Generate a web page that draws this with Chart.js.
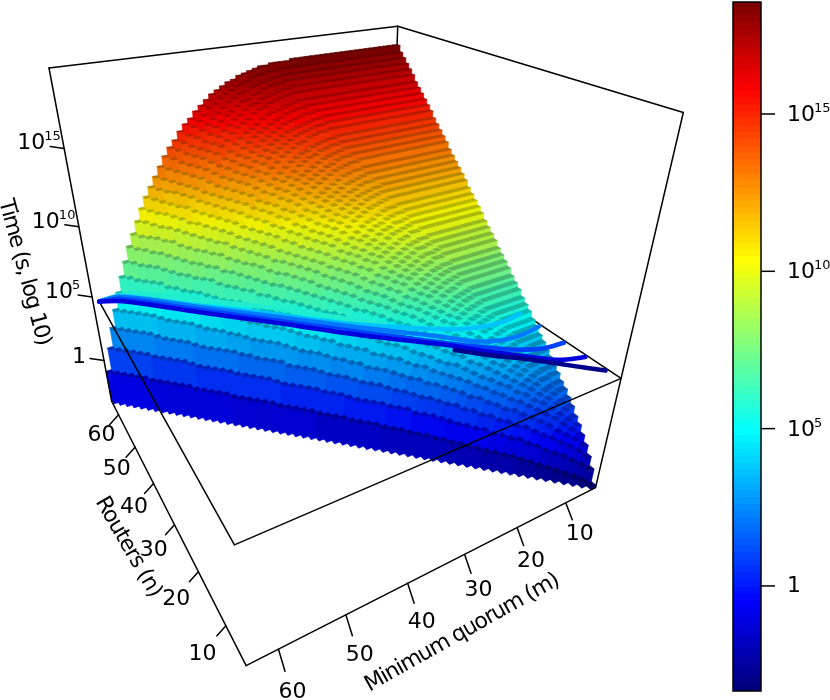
<!DOCTYPE html>
<html>
<head>
<meta charset="utf-8">
<title>Quorum search time</title>
<script src="https://cdn.jsdelivr.net/npm/chart.js@4/dist/chart.umd.min.js"></script>
<style>
  body { margin: 0; background: #fff; }
  #wrap { position: relative; width: 830px; height: 700px; overflow: hidden; }
  canvas { position: absolute; top: 0; }
</style>
</head>
<body>
<div id="wrap">
  <canvas id="surface" width="830" height="700" style="left:0"></canvas>
  <canvas id="colorbar" width="130" height="700" style="left:700px"></canvas>
</div>
<script>
// Log10(time) in tenths of a decade, one row per router
// count n = 4..64. Each row starts at m = n and walks down towards m = 4; once
// a row has reached its plateau the last value holds for the remaining m.
const timeTenths = [
  [-33],
  [-31,-23],
  [-29,-21,-16],
  [-28,-19,-13,-10],
  [-27,-17,-11,-7,-5],
  [-26,-16,-9,-5,-2,0],
  [-25,-15,-7,-3,1,3,4],
  [-24,-13,-6,0,4,6,8,9],
  [-23,-12,-4,2,6,9,11,12,13],
  [-22,-10,-2,4,8,12,14,16,17,17],
  [-22,-10,-2,5,10,13,16,18,19,20,20],
  [-21,-9,0,7,12,16,19,21,23,23,24,24],
  [-21,-9,0,7,13,17,21,23,25,26,27,27,27],
  [-20,-7,2,9,15,20,23,26,28,30,30,31,31,31],
  [-20,-7,2,10,16,21,25,28,30,32,33,34,34,34,34],
  [-19,-6,4,12,18,23,27,31,33,35,36,37,37,38,38,38],
  [-19,-6,4,12,19,24,29,32,35,37,39,40,41,41,41,41,41],
  [-18,-5,6,14,21,26,31,35,38,40,42,43,44,45,45,45,45,45],
  [-18,-4,6,15,22,28,32,37,40,42,44,46,47,48,48,48,48,48,48],
  [-17,-3,7,16,23,30,35,39,42,45,48,49,50,51,52,52],
  [-17,-3,8,17,24,30,36,40,44,47,50,52,53,54,55,55],
  [-17,-3,8,17,25,31,37,41,46,49,52,54,55,57,58,58],
  [-16,-1,9,19,27,33,39,44,48,52,55,57,59,60,61,62],
  [-16,-1,10,19,27,34,40,45,49,53,56,59,61,63,64,65],
  [-16,-1,10,20,28,35,41,46,51,55,58,61,63,65,66,67,68],
  [-15,0,11,21,30,37,43,48,53,57,60,63,66,68,69,71,72],
  [-15,0,12,22,30,38,44,50,55,59,62,66,68,70,72,73,74,75],
  [-15,0,12,22,31,38,45,51,56,60,64,67,70,72,74,76,77,78],
  [-15,0,12,22,31,39,46,52,57,61,65,69,72,74,76,78,79,80,80,81],
  [-14,1,13,24,33,41,48,54,59,63,68,72,75,77,79,81,82,84,84,85],
  [-14,2,14,24,33,41,48,55,60,65,69,73,76,79,81,83,85,86,86,87,88],
  [-14,2,14,25,34,42,49,56,61,66,71,75,78,81,83,85,87,89,89,90,91],
  [-14,2,14,25,34,43,50,56,62,67,72,76,80,83,85,87,89,91,92,93,93,94],
  [-13,3,15,26,36,45,52,58,64,69,74,79,83,86,88,90,92,94,95,97,97,98],
  [-13,3,16,27,36,45,53,59,65,71,76,80,84,87,90,92,95,97,98,99,100,101],
  [-13,3,16,27,37,46,53,60,66,72,77,82,86,89,92,94,97,99,100,102,102,103,104],
  [-13,3,16,27,37,46,54,61,67,73,78,83,87,90,94,96,99,101,102,104,105,106,106,107],
  [-13,3,16,28,38,47,55,62,68,74,79,84,88,92,95,98,101,103,104,106,108,109,109,110],
  [-12,4,18,29,39,48,56,63,70,76,81,86,91,94,98,101,104,106,108,110,111,112,113,114],
  [-12,5,18,30,40,49,57,64,71,77,82,87,92,96,100,103,106,108,110,112,114,115,116,117],
  [-12,5,18,30,40,49,57,65,72,78,83,88,93,97,101,104,107,110,112,114,116,117,118,119,119,120],
  [-12,5,18,30,40,50,58,66,73,79,84,89,94,98,102,106,109,112,114,116,118,119,121,122,122,123],
  [-12,5,19,30,41,50,59,66,73,80,85,91,96,100,104,108,111,114,116,118,120,122,123,124,125,126],
  [-12,5,19,31,41,51,59,67,74,80,86,92,97,101,106,109,113,116,118,120,122,124,126,127,128,128,129],
  [-11,6,20,32,42,52,61,68,76,82,88,94,99,104,108,112,115,118,121,123,125,127,129,130,131,132,132,133],
  [-11,6,20,32,43,53,61,69,77,83,89,95,100,105,109,114,117,120,123,125,127,129,131,132,134,135,135,136],
  [-11,6,20,33,43,53,62,70,77,84,90,96,102,107,111,115,119,122,125,127,129,131,133,135,136,137,138,139],
  [-11,6,20,33,44,53,62,71,78,85,91,97,103,108,112,117,120,124,126,129,132,134,136,137,139,140,141,141,142],
  [-11,6,20,33,44,54,63,71,79,86,92,98,104,109,113,118,122,125,128,131,134,136,138,139,141,142,143,144,144,145],
  [-10,7,21,34,45,55,65,73,81,88,94,100,106,111,116,120,124,128,131,134,137,139,141,143,144,146,147,148,148,149],
  [-10,8,22,35,46,56,65,73,81,88,95,101,107,112,117,122,126,129,133,136,139,141,143,145,147,148,149,150,151,151,152],
  [-10,8,22,35,46,56,65,74,82,89,96,102,108,113,118,123,127,131,134,137,140,143,145,147,149,150,151,152,153,154,154,155],
  [-10,8,22,35,46,56,66,74,82,90,97,103,109,114,119,124,128,132,136,139,142,145,147,149,151,153,154,155,156,157,157,158],
  [-10,8,22,35,46,57,66,75,83,91,98,104,110,115,120,125,130,134,137,141,144,147,149,151,153,155,156,158,159,160,160,161],
  [-10,8,23,36,47,57,67,76,84,92,98,105,111,116,122,127,131,135,139,143,146,149,151,153,156,158,159,160,161,162,163,164],
  [-9,9,24,37,48,59,68,77,86,93,100,107,113,118,124,129,133,138,142,145,149,152,154,156,159,161,162,164,165,166,167,168],
  [-9,9,24,37,48,59,69,78,86,94,101,107,114,119,125,130,135,139,143,147,150,153,156,158,161,163,164,166,167,168,169,170,170,171],
  [-9,9,24,37,48,59,69,78,87,94,102,108,115,120,126,131,136,140,144,148,152,155,158,160,163,165,166,168,169,171,172,173,173,174],
  [-9,9,24,37,49,59,69,79,87,95,102,109,115,121,127,132,137,141,146,150,153,156,159,162,165,167,169,170,172,173,174,175,176,176,177],
  [-9,9,24,37,49,60,70,79,87,96,103,110,116,122,128,134,139,143,147,152,155,158,162,164,167,169,171,173,174,175,177,178,178,179,179,180],
  [-9,9,24,37,49,60,70,80,88,96,104,111,117,123,129,135,140,144,149,153,156,160,163,166,169,171,173,175,176,178,179,180,181,182,182,183,183,183,183,184]
];
const firstRouters = 4;
const lastQuorum = 4;

const routerTicks = [10, 20, 30, 40, 50, 60];
const quorumTicks = [10, 20, 30, 40, 50, 60];
const timeTicks = [0, 5, 10, 15];

// contour lines that lie flat on the slice plane: routers reached for each quorum
const curveQuorum = [4, 8, 12, 16, 20, 30, 40, 50, 60, 63.6];
const curveNavy = [6, 10, 14, 17.5, 21.5];
const curveDeep = [10, 11.5, 15, 18.8, 23, 32, 42, 51.8, 61.8, 63.8];
const curveBlue = [14.5, 15, 17, 20.2, 23.7, 33.3, 43, 52.8, 62.7, 63.8];
const curveAzure = [20, 19.5, 20, 22, 26, 35, 44.5, 54, 63.5, 63.8];
const curveCyan = [24.5, 24, 24.5, 26, 28.5, 36, 45.5, 54.5, 63.7, 63.8];
const curveAquaQuorum = [25, 30, 40, 50, 58, 63.6];
const curveAqua = [33, 38, 48, 57, 63.8, 63.8];

// time range of the colour scale and of the box
const colorMin = -3.34, colorMax = 18.56;
const boxM = [3.5, 64.5], boxN = [3.5, 64.5], boxZ = [-3.5, 19.6], sliceZ = 4.7;

const jetStops = [[0,0,127],[0,0,255],[0,127,255],[0,255,255],[127,255,127],[255,255,0],[255,127,0],[255,0,0],[127,0,0]];

function jet(t, shade) {
  const p = Math.min(Math.max(t, 0), 1) * 8;
  const i = Math.min(Math.floor(p), 7), f = p - i;
  const c = jetStops[i].map((v, k) => Math.round((v + (jetStops[i + 1][k] - v) * f) * shade));
  return `rgb(${c[0]},${c[1]},${c[2]})`;
}
// 100 flat colours, as on the colour bar
function levelColor(z, shade) {
  const idx = Math.min(Math.floor((z - colorMin) / (colorMax - colorMin) * 100), 99);
  return jet(idx / 99, shade);
}

// Camera: fitted to where the box corners and ticks sit in the picture
const [m0, m1] = boxM, [n0, n1] = boxN, [z0, z1] = boxZ;
const boxCorners = [
  [m1, n0, z0, 246, 666], [m1, n1, z0, 112, 402], [m0, n0, z0, 596, 487],
  [m1, n1, z1, 49, 68], [m0, n0, z1, 684, 113], [m0, n1, z1, 397, 27]
];
const cameraMarks = [
  ...boxCorners, ...boxCorners, ...boxCorners,
  [4, 64.5, 18.4, 397, 42],
  [m1, n0, sliceZ, 237, 541], [m0, n0, sliceZ, 618, 378], [m1, n1, sliceZ, 94, 300],
  [m1, n1, 15, 63, 149], [m1, n1, 10, 78, 227], [m1, n1, 5, 92, 297], [m1, n1, 0, 104, 361],
  [m1, 60, z0, 119, 414], [m1, 50, z0, 135, 446], [m1, 40, z0, 153, 483],
  [m1, 30, z0, 174, 524], [m1, 20, z0, 198, 572], [m1, 10, z0, 226, 626],
  [60, n0, z0, 278, 649], [50, n0, z0, 345, 617], [40, n0, z0, 408, 584],
  [30, n0, z0, 464, 555], [20, n0, z0, 517, 528], [10, n0, z0, 566, 503]
];

function fitCamera(marks) {
  const size = 11;
  const a = Array.from({ length: size }, () => new Array(size + 1).fill(0));
  const add = (row, rhs) => {
    for (let i = 0; i < size; i++) {
      for (let j = 0; j < size; j++) a[i][j] += row[i] * row[j];
      a[i][size] += row[i] * rhs;
    }
  };
  marks.forEach(([m, n, z, px, py]) => {
    const X = m / 60, Y = n / 60, Z = z / 20, x = px / 800, y = py / 800;
    add([X, Y, Z, 1, 0, 0, 0, 0, -x * X, -x * Y, -x * Z], x);
    add([0, 0, 0, 0, X, Y, Z, 1, -y * X, -y * Y, -y * Z], y);
  });
  for (let c = 0; c < size; c++) {
    let best = c;
    for (let r = c + 1; r < size; r++) if (Math.abs(a[r][c]) > Math.abs(a[best][c])) best = r;
    [a[c], a[best]] = [a[best], a[c]];
    for (let r = 0; r < size; r++) {
      if (r === c) continue;
      const f = a[r][c] / a[c][c];
      for (let k = c; k <= size; k++) a[r][k] -= f * a[c][k];
    }
  }
  return a.map((row, i) => row[size] / row[i]);
}
const cam = fitCamera(cameraMarks);

function project(m, n, z) {
  const X = m / 60, Y = n / 60, Z = z / 20;
  const w = cam[8] * X + cam[9] * Y + cam[10] * Z + 1;
  return {
    x: 800 * (cam[0] * X + cam[1] * Y + cam[2] * Z + cam[3]) / w,
    y: 800 * (cam[4] * X + cam[5] * Y + cam[6] * Z + cam[7]) / w
  };
}

function lineSet(points, color, width, tension) {
  return { data: points, borderColor: color, borderWidth: width, tension: tension || 0,
    fill: false, showLine: true, pointRadius: 0, borderCapStyle: 'round' };
}
function faceSet(points, color) {
  return { data: points, borderColor: color, backgroundColor: color, borderWidth: 0.6,
    fill: 'shape', showLine: true, pointRadius: 0 };
}

// Chart.js paints the first dataset last, so the list runs from front to back
const datasets = [];

// lines in front of the bars
const curveSet = (ms, ns, color) =>
  lineSet(ns.map((n, i) => project(ms[i], n, sliceZ)), color, 4.5, 0.3);
datasets.push(curveSet(curveQuorum, curveNavy, '#00008c'));
datasets.push(curveSet(curveQuorum, curveDeep, '#0000dc'));
datasets.push(curveSet(curveQuorum, curveBlue, '#0040ff'));
datasets.push(curveSet(curveQuorum, curveAzure, '#0078ff'));
datasets.push(curveSet(curveQuorum, curveCyan, '#00c4ff'));
datasets.push(curveSet(curveAquaQuorum, curveAqua, '#20ecd0'));

const black = '#000';
const edge = (a, b) => lineSet([project(...a), project(...b)], black, 1.5);
datasets.push(edge([m1, n0, sliceZ], [63.6, 63.8, sliceZ]));
datasets.push(edge([m1, n0, sliceZ], [m0, n0, sliceZ]));
datasets.push(edge([m1, n1, z0], [m1, n0, z0]));
datasets.push(edge([m1, n0, z0], [m0, n0, z0]));
datasets.push(edge([m0, n0, z0], [m0, n0, z1]));
datasets.push(edge([m1, n1, z0], [m1, n1, z1]));

// tick marks
const tick = (p, dx, dy) => lineSet([p, { x: p.x + dx, y: p.y + dy }], black, 1.5);
routerTicks.forEach(n => datasets.push(tick(project(m1, n, z0), -9, 10)));
quorumTicks.forEach(m => datasets.push(tick(project(m, n0, z0), 6.5, 17 + (m - 10) * 0.1)));
timeTicks.forEach(z => datasets.push(tick(project(m1, n1, z), -14, -2)));

// bars, nearest first
timeTenths.forEach((row, r) => {
  const n = firstRouters + r;
  for (let m = n; m >= lastQuorum; m--) {
    const z = row[Math.min(n - m, row.length - 1)] / 10;
    const a = m - 0.5, b = m + 0.5, c = n - 0.5, d = n + 0.5;
    const topFace = [project(a, c, z), project(b, c, z), project(b, d, z), project(a, d, z), project(a, c, z)];
    const sides = [project(a, c, z), project(b, c, z), project(b, d, z),
      project(b, d, z0), project(b, c, z0), project(a, c, z0), project(a, c, z)];
    datasets.push(faceSet(topFace, levelColor(z, 0.72)));
    datasets.push(faceSet(sides, levelColor(z, 0.94)));
  }
});

// lines behind the bars
datasets.push(edge([m1, n1, z1], [m0, n1, z1]));
datasets.push(edge([m0, n1, z1], [m0, n0, z1]));
datasets.push(edge([m0, n1, z1], [m0, n1, z0]));
datasets.push(edge([m0, n0, sliceZ], [m0, n1, sliceZ]));

const tickFont = '22px "DejaVu Sans"';
const supFont = '13px "DejaVu Sans"';

function power(ctx, x, y, exp) {
  ctx.textAlign = 'left';
  ctx.textBaseline = 'alphabetic';
  ctx.font = tickFont;
  ctx.fillText('10', x, y);
  ctx.font = supFont;
  ctx.fillText(String(exp), x + 27, y - 9);
}
function centered(ctx, text, x, y, deg, spacing) {
  ctx.save();
  ctx.translate(x, y);
  ctx.rotate(deg * Math.PI / 180);
  ctx.letterSpacing = spacing || '0px';
  ctx.textAlign = 'center';
  ctx.textBaseline = 'middle';
  ctx.fillText(text, 0, 0);
  ctx.restore();
}

const surfaceText = {
  id: 'surfaceText',
  afterDraw(chart) {
    const ctx = chart.ctx;
    ctx.save();
    ctx.fillStyle = black;
    ctx.font = tickFont;
    routerTicks.forEach(n => {
      const p = project(m1, n, z0), s = 1 + (60 - n) * 0.0075;
      ctx.font = tickFont;
      centered(ctx, String(n), p.x - 17 * s, p.y + 21 * s, 0);
    });
    quorumTicks.forEach(m => {
      const p = project(m, n0, z0);
      ctx.font = tickFont;
      centered(ctx, String(m), p.x + 14, p.y + 32 + (m - 10) * 0.22, 0);
    });
    timeTicks.forEach(z => {
      const p = project(m1, n1, z);
      if (z === 0) {
        ctx.font = tickFont;
        centered(ctx, '1', p.x - 25, p.y - 3, 0);
      } else {
        power(ctx, p.x - 47, p.y + 1, z);
      }
    });
    ctx.font = tickFont;
    centered(ctx, 'Time (s, log 10)', 24, 272, 75, '-1.4px');
    centered(ctx, 'Routers (n)', 128, 547, 60, '-1px');
    centered(ctx, 'Minimum quorum (m)', 462, 633, -29.4, '-1.2px');
    ctx.restore();
  }
};

new Chart(document.getElementById('surface'), {
  type: 'scatter',
  data: { datasets: datasets },
  plugins: [surfaceText],
  options: {
    responsive: false,
    animation: false,
    events: [],
    parsing: false,
    normalized: true,
    layout: { padding: 0 },
    plugins: { legend: { display: false }, tooltip: { enabled: false } },
    scales: {
      x: { type: 'linear', min: 0, max: 830, display: false },
      y: { type: 'linear', min: 0, max: 700, reverse: true, display: false }
    }
  }
});

// colour bar
const barLevels = Array.from({ length: 100 }, (_, i) => i);
const barStep = (colorMax - colorMin) / barLevels.length;
const barTicks = [0, 5, 10, 15];

const barFrame = {
  id: 'barFrame',
  afterDraw(chart) {
    const { ctx, chartArea: area, scales } = chart;
    ctx.save();
    ctx.strokeStyle = black;
    ctx.fillStyle = black;
    ctx.lineWidth = 1.5;
    ctx.strokeRect(area.left, area.top, area.right - area.left, area.bottom - area.top);
    barTicks.forEach(z => {
      const y = scales.y.getPixelForValue(z);
      ctx.beginPath();
      ctx.moveTo(area.right, y);
      ctx.lineTo(area.right + 14, y);
      ctx.stroke();
      if (z === 0) {
        ctx.font = tickFont;
        centered(ctx, '1', area.right + 33, y, 0);
      } else {
        power(ctx, area.right + 26, y + 7, z);
      }
    });
    ctx.restore();
  }
};

new Chart(document.getElementById('colorbar'), {
  type: 'bar',
  data: {
    labels: [''],
    datasets: barLevels.map(i => ({
      data: [[colorMin + i * barStep, colorMin + (i + 1) * barStep + 0.02]],
      backgroundColor: jet(i / 99, 1),
      barPercentage: 1,
      categoryPercentage: 1,
      grouped: false
    }))
  },
  plugins: [barFrame],
  options: {
    responsive: false,
    animation: false,
    events: [],
    layout: { padding: { left: 33, right: 69, top: 2, bottom: 9 } },
    plugins: { legend: { display: false }, tooltip: { enabled: false } },
    scales: {
      x: { display: false },
      y: { type: 'linear', min: colorMin, max: colorMax, display: false }
    }
  }
});
</script>
</body>
</html>
